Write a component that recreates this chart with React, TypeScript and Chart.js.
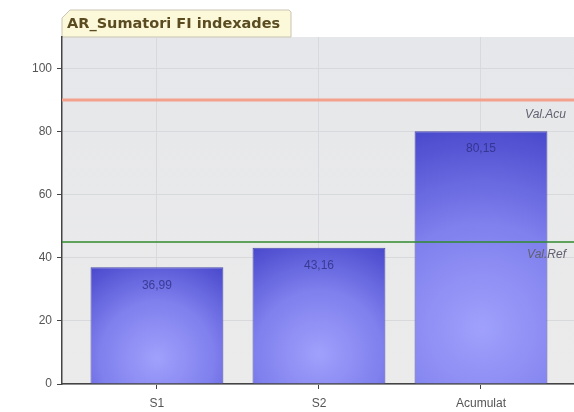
import React, { useEffect, useRef } from "react";
import { Chart, registerables } from "chart.js";

Chart.register(...registerables);

const categories = ["S1", "S2", "Acumulat"];
const values = [36.99, 43.16, 80.15];
const refValues = [90, 45];
const refLabels = ["Val.Acu", "Val.Ref"];
const refColors = ["#f3a08c", "#2f8a2f"];
const refWidths = [3, 1.5];
const yTicks = [0, 20, 40, 60, 80, 100];
const title = "AR_Sumatori FI indexades";

const bgPlugin = {
  id: "bgPlugin",
  beforeDraw(chart: any) {
    const { ctx, chartArea: a } = chart;
    ctx.save();
    const g = ctx.createLinearGradient(0, a.top, 0, a.bottom);
    g.addColorStop(0, "#e6e7ea");
    g.addColorStop(1, "#ebebeb");
    ctx.fillStyle = g;
    ctx.fillRect(a.left, a.top, a.right - a.left, a.bottom - a.top);
    // title tab
    const x0 = a.left, x1 = a.left + 229, yT = 10, yB = a.top;
    ctx.beginPath();
    ctx.moveTo(x0, yB);
    ctx.lineTo(x0, yT + 8);
    ctx.lineTo(x0 + 8, yT);
    ctx.lineTo(x1 - 2, yT);
    ctx.lineTo(x1, yT + 2);
    ctx.lineTo(x1, yB);
    ctx.closePath();
    ctx.fillStyle = "#fcf8da";
    ctx.fill();
    ctx.strokeStyle = "#c9c5b2";
    ctx.lineWidth = 1;
    ctx.stroke();
    ctx.fillStyle = "#5a4c20";
    ctx.font = "bold 14.5px 'DejaVu Sans', Verdana, sans-serif";
    ctx.textBaseline = "middle";
    ctx.textAlign = "left";
    ctx.fillText(title, x0 + 5, (yT + yB) / 2 + 1);
    ctx.restore();
  },
};

const overlayPlugin = {
  id: "overlayPlugin",
  afterDatasetsDraw(chart: any) {
    const { ctx, chartArea: a, scales } = chart;
    ctx.save();
    const meta = chart.getDatasetMeta(0);
    ctx.font = "12px 'Liberation Sans', Arial, sans-serif";
    ctx.fillStyle = "rgba(40,40,120,0.72)";
    ctx.textAlign = "center";
    ctx.textBaseline = "middle";
    meta.data.forEach((el: any, i: number) => {
      ctx.fillText(values[i].toFixed(2).replace(".", ","), el.x, el.y + 18);
    });
    refValues.forEach((v, i) => {
      const y = scales.y.getPixelForValue(v);
      ctx.strokeStyle = refColors[i];
      ctx.lineWidth = refWidths[i];
      ctx.beginPath();
      ctx.moveTo(a.left, y);
      ctx.lineTo(a.right, y);
      ctx.stroke();
      ctx.fillStyle = "#606070";
      ctx.font = "italic 12px 'Liberation Sans', Arial, sans-serif";
      ctx.textAlign = "right";
      ctx.fillText(refLabels[i], a.right - 8, y + (i === 0 ? 15 : 13));
    });
    ctx.restore();
  },
};

function barGradient(context: any) {
  const chart = context.chart;
  const sx = chart.scales?.x;
  const sy = chart.scales?.y;
  if (!sx || !sy || context.type !== "data") return "#6b6be6";
  const cx = sx.getPixelForValue(context.dataIndex);
  const top = sy.getPixelForValue(values[context.dataIndex]);
  const base = sy.getPixelForValue(0);
  if (![cx, top, base].every((n) => Number.isFinite(n))) return "#6b6be6";
  const h = base - top;
  const cy = base - h * 0.22;
  const r = Math.max(90, Math.sqrt(66 * 66 + (cy - top) * (cy - top)));
  const g = chart.ctx.createRadialGradient(cx, cy, 0, cx, cy, r);
  g.addColorStop(0, "#a0a0fc");
  g.addColorStop(0.5, "#8080ee");
  g.addColorStop(1, "#4848cc");
  return g;
}

export default function App() {
  const ref = useRef<HTMLCanvasElement>(null);
  useEffect(() => {
    document.body.style.margin = "0";
    const chart = new Chart(ref.current!, {
      type: "bar",
      data: {
        datasets: [
          {
            data: values.map((v, i) => ({ x: i, y: v })),
            backgroundColor: barGradient,
            borderColor: "#4a4aae",
            borderWidth: 1,
            barPercentage: 0.82,
            categoryPercentage: 1,
          },
        ],
      },
      options: {
        animation: false,
        responsive: false,
        maintainAspectRatio: false,
        layout: { padding: { top: 37, right: 0, left: 0, bottom: 0 } },
        plugins: { legend: { display: false }, tooltip: { enabled: false }, title: { display: false } },
        scales: {
          x: {
            type: "linear",
            offset: false,
            min: -0.586,
            max: 2.574,
            afterBuildTicks: (s: any) => {
              s.ticks = categories.map((_, i) => ({ value: i }));
            },
            afterFit: (s: any) => {
              s.height = 28;
            },
            ticks: {
              callback: (v: any) => categories[v] ?? "",
              color: "#555",
              font: { family: "'Liberation Sans', Arial, sans-serif", size: 12 },
              padding: 7,
              maxRotation: 0,
            },
            grid: { offset: false, color: "#d8d9dc", tickColor: "#444", tickLength: 5, drawTicks: true },
            border: { color: "#444", width: 1.5 },
          },
          y: {
            min: 0,
            max: 110,
            afterBuildTicks: (s: any) => {
              s.ticks = yTicks.map((v) => ({ value: v }));
            },
            afterFit: (s: any) => {
              s.width = 62;
            },
            ticks: {
              color: "#555",
              font: { family: "'Liberation Sans', Arial, sans-serif", size: 12 },
              padding: 5,
            },
            grid: { color: "#d8d9dc", tickColor: "#444", tickLength: 5 },
            border: { color: "#444", width: 1.5 },
          },
        },
      },
      plugins: [bgPlugin, overlayPlugin],
    } as any);
    return () => chart.destroy();
  }, []);
  return (
    <div style={{ width: 574, height: 412, background: "#fff" }}>
      <canvas ref={ref} width={574} height={412} style={{ display: "block" }} />
    </div>
  );
}
